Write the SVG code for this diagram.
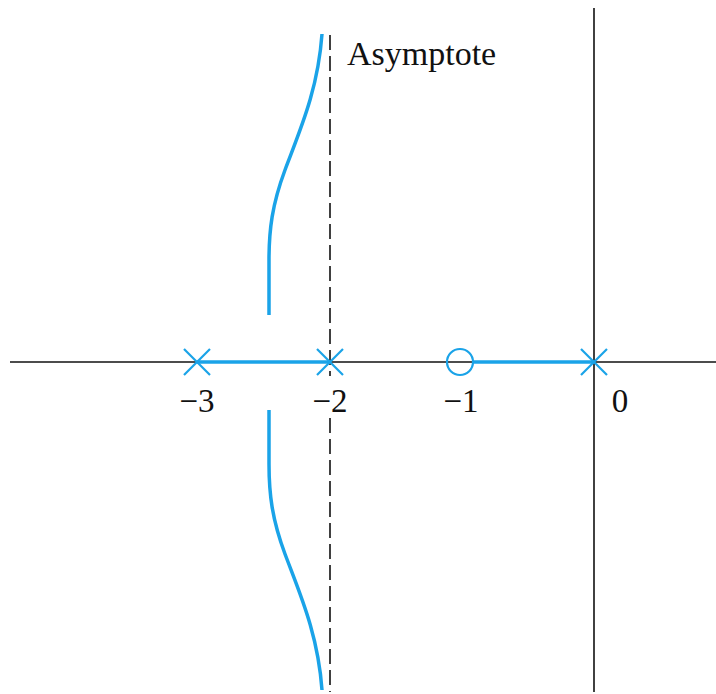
<svg xmlns="http://www.w3.org/2000/svg" width="716" height="694" viewBox="0 0 716 694">
<style>
.axis{stroke:#111;stroke-width:1.6;fill:none}
.dash{stroke:#111;stroke-width:1.6;fill:none;stroke-dasharray:15 6}
.locus{stroke:#1aa3e8;stroke-width:3.5;fill:none;stroke-linecap:butt}
.mark{stroke:#1aa3e8;stroke-width:2.2;fill:none}
.lbl{font-family:"Liberation Serif","Times New Roman",serif;font-size:33px;fill:#111}
</style>
<rect width="716" height="694" fill="#fff"/>
<g id="axes">
<line class="axis" x1="10" y1="362" x2="716" y2="362"/>
<line class="axis" x1="594" y1="8" x2="594" y2="692"/>
</g>
<g id="asymptote">
<line class="dash" x1="330" y1="35" x2="330" y2="376"/>
<line class="dash" x1="330" y1="418" x2="330" y2="692"/>
<text class="lbl" x="347" y="65" style="font-size:34px">Asymptote</text>
</g>
<g id="connectors">
<line class="locus" x1="197" y1="362" x2="330" y2="362"/>
<line class="locus" x1="473" y1="362" x2="594" y2="362"/>
<path class="locus" d="M322,34 C318,90 300,130 285,170 C272,205 269,230 269,260 L269,315"/>
<path class="locus" d="M269,410 L269,464 C269,494 272,519 285,554 C300,594 318,634 322,690"/>
</g>
<g id="pole-3">
<path class="mark" d="M184,349 L210,375 M184,375 L210,349"/>
<text class="lbl" x="197" y="412" text-anchor="middle">−3</text>
</g>
<g id="pole-2">
<path class="mark" d="M317,349 L343,375 M317,375 L343,349"/>
<text class="lbl" x="330" y="412" text-anchor="middle">−2</text>
</g>
<g id="zero-1">
<circle class="mark" cx="460" cy="362" r="13" fill="#fff"/>
<text class="lbl" x="461" y="412" text-anchor="middle">−1</text>
</g>
<g id="pole0">
<path class="mark" d="M581,349 L607,375 M581,375 L607,349"/>
<text class="lbl" x="620" y="412" text-anchor="middle">0</text>
</g>
</svg>
